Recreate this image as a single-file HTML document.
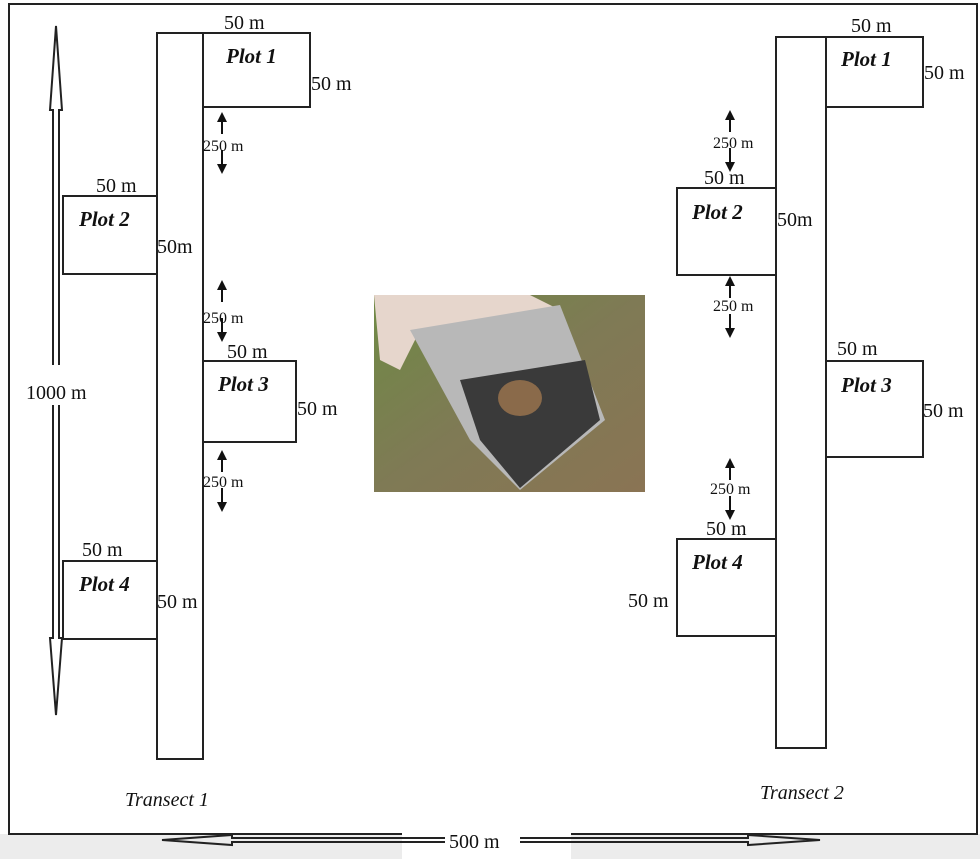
<!DOCTYPE html>
<html><head><style>
body{margin:0;background:#fff;}
svg text{font-family:"Liberation Serif",serif;fill:#111;}
.p{font-weight:bold;font-style:italic;font-size:21px;}
.m{font-size:20px;}
.s{font-size:16px;}
</style></head><body>
<svg width="980" height="859" viewBox="0 0 980 859" xmlns="http://www.w3.org/2000/svg">
<defs>
<g id="a"><line x1="0" y1="8" x2="0" y2="22"/><path d="M-5 10 L0 0 L5 10Z" stroke="none"/><line x1="0" y1="38" x2="0" y2="54"/><path d="M-5 52 L0 62 L5 52Z" stroke="none"/></g>
<linearGradient id="g" x1="0" y1="0" x2="1" y2="1"><stop offset="0" stop-color="#6f8a45"/><stop offset="0.5" stop-color="#7f7a55"/><stop offset="1" stop-color="#8a7454"/></linearGradient>
</defs>
<rect x="0" y="834" width="980" height="25" fill="#ececec"/>
<rect x="402" y="834" width="169" height="25" fill="#fff"/>
<g fill="none" stroke="#222" stroke-width="2">
<path d="M402 834 H9 V4 H977 V834 H571"/>
<rect x="157" y="33" width="46" height="726"/>
<rect x="203" y="33" width="107" height="74"/>
<rect x="63" y="196" width="94" height="78"/>
<rect x="203" y="361" width="93" height="81"/>
<rect x="63" y="561" width="94" height="78"/>
<rect x="776" y="37" width="50" height="711"/>
<rect x="826" y="37" width="97" height="70"/>
<rect x="677" y="188" width="99" height="87"/>
<rect x="826" y="361" width="97" height="96"/>
<rect x="677" y="539" width="99" height="97"/>
<path d="M53 365 V110 H50 L56 26 L62 110 H59 V365"/>
<path d="M53 405 V638 H50 L56 715 L62 638 H59 V405"/>
<path d="M445 838 H232 V835 L162 840 L232 845 V842 H445"/>
<path d="M520 838 H748 V835 L820 840 L748 845 V842 H520"/>
</g>
<g stroke="#111" stroke-width="2" fill="#111">
<use href="#a" x="222" y="112"/>
<use href="#a" x="222" y="280"/>
<use href="#a" x="222" y="450"/>
<use href="#a" x="730" y="110"/>
<use href="#a" x="730" y="276"/>
<use href="#a" x="730" y="458"/>
</g>
<g class="p">
<text x="226" y="63">Plot 1</text><text x="79" y="226">Plot 2</text>
<text x="218" y="391">Plot 3</text><text x="79" y="591">Plot 4</text>
<text x="841" y="66">Plot 1</text><text x="692" y="219">Plot 2</text>
<text x="841" y="392">Plot 3</text><text x="692" y="569">Plot 4</text>
</g>
<g class="m">
<text x="224" y="29">50 m</text><text x="311" y="90">50 m</text>
<text x="96" y="192">50 m</text><text x="157" y="253">50m</text>
<text x="227" y="358">50 m</text><text x="297" y="415">50 m</text>
<text x="82" y="556">50 m</text><text x="157" y="608">50 m</text>
<text x="26" y="399">1000 m</text>
<text x="851" y="32">50 m</text><text x="924" y="79">50 m</text>
<text x="704" y="184">50 m</text><text x="777" y="226">50m</text>
<text x="837" y="355">50 m</text><text x="923" y="417">50 m</text>
<text x="706" y="535">50 m</text><text x="628" y="607">50 m</text>
<text x="449" y="848">500 m</text>
</g>
<g class="s">
<text x="203" y="151">250 m</text><text x="203" y="323">250 m</text><text x="203" y="487">250 m</text>
<text x="713" y="148">250 m</text><text x="713" y="311">250 m</text><text x="710" y="494">250 m</text>
</g>
<text x="125" y="806" class="m" font-style="italic">Transect 1</text>
<text x="760" y="799" class="m" font-style="italic">Transect 2</text>
<rect x="374" y="295" width="271" height="197" fill="url(#g)"/>
<path d="M374 295 H530 L560 310 L420 330 L400 370 L380 360 Z" fill="#e6d6cc"/>
<path d="M410 330 L560 305 L605 420 L520 490 L470 440 Z" fill="#b8b8b8"/>
<path d="M460 380 L585 360 L600 420 L520 488 L480 440 Z" fill="#3a3a3a"/>
<ellipse cx="520" cy="398" rx="22" ry="18" fill="#8a6a4a"/>
</svg>
</body></html>
